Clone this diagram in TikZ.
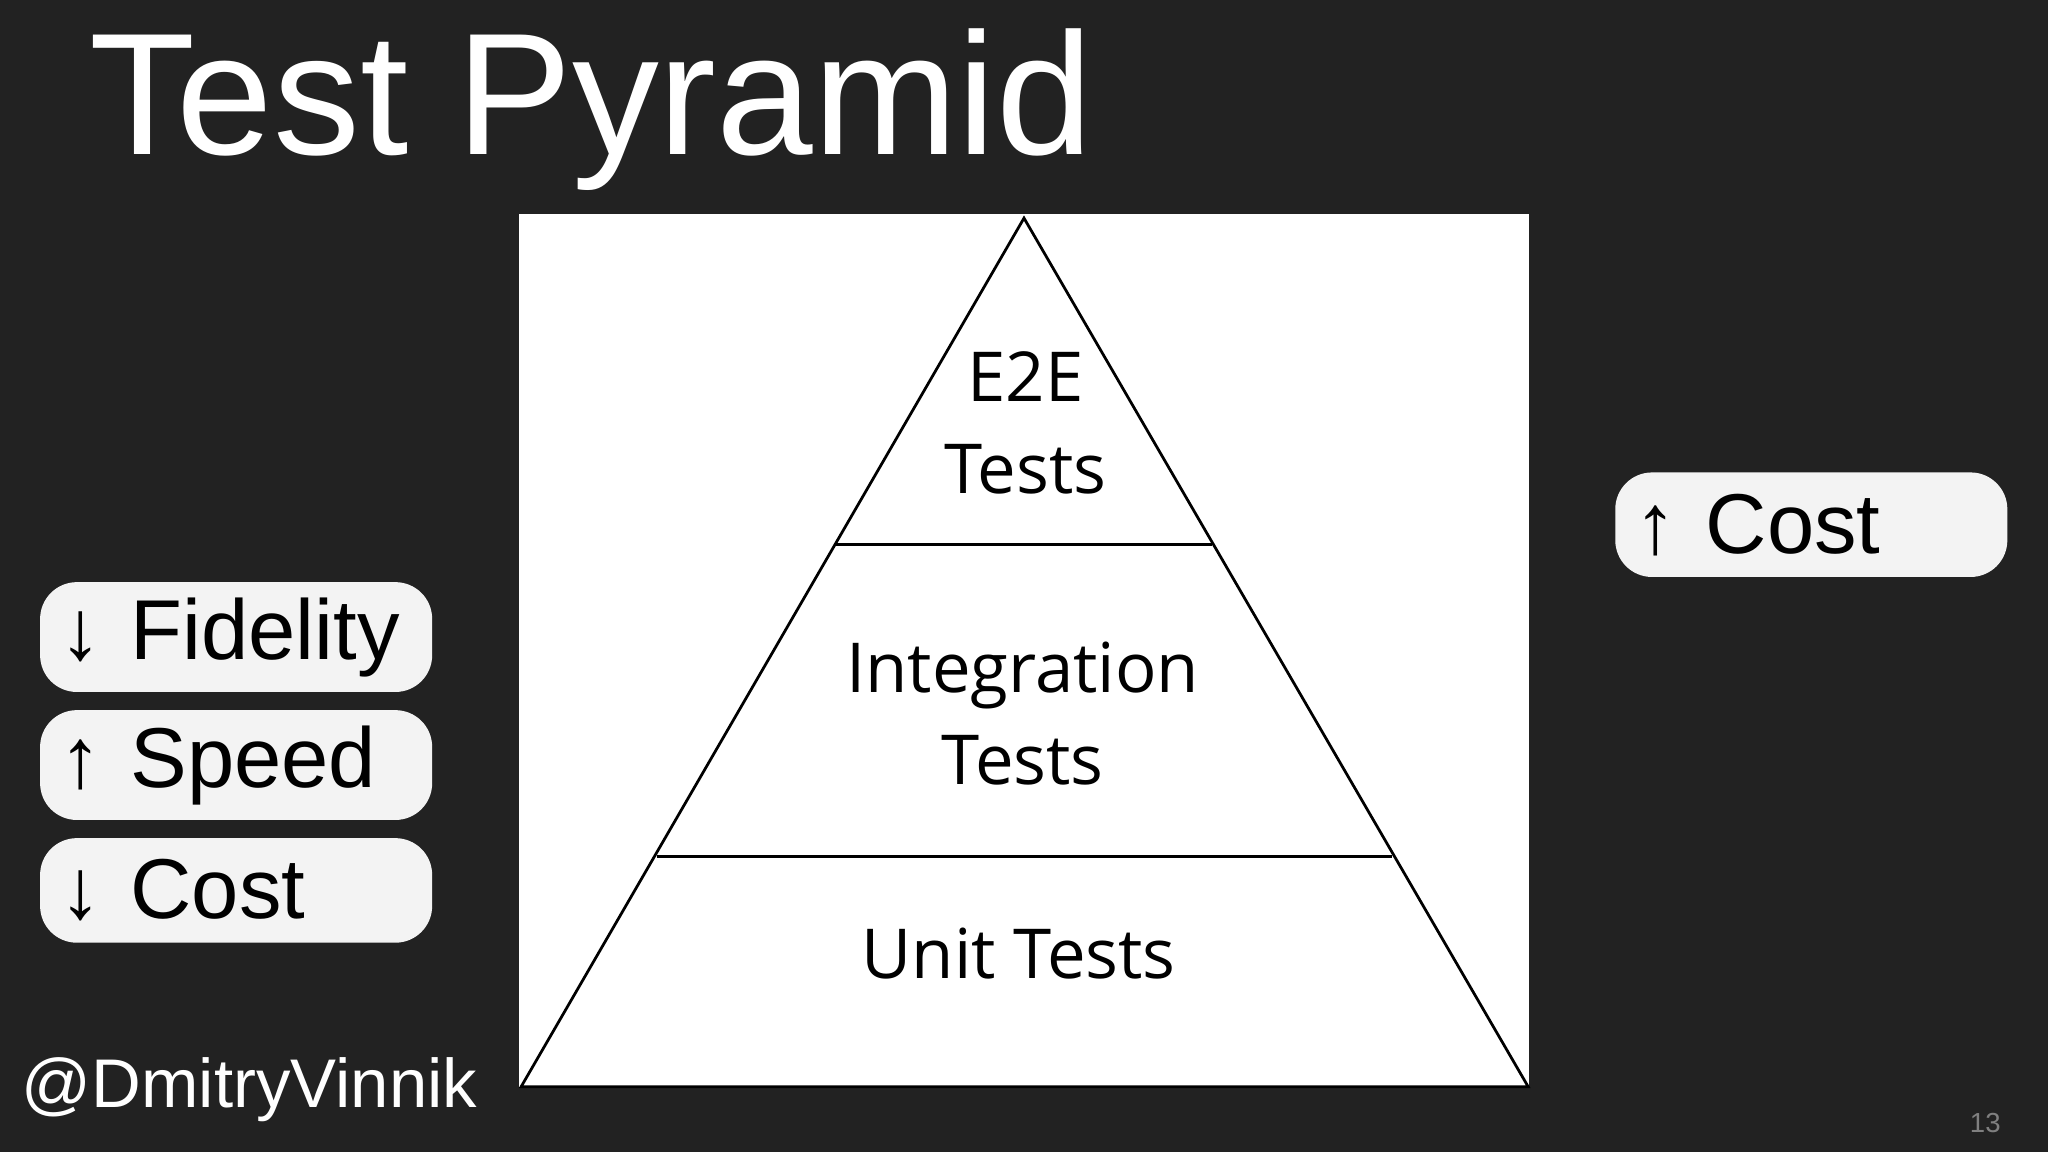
\documentclass[tikz,border=0pt]{standalone}
\usepackage{fontspec}
\setmainfont{Liberation Sans}
\newfontfamily\pyr{Open Sans}
\definecolor{bg}{HTML}{222222}
\definecolor{boxc}{HTML}{F3F3F3}
\begin{document}
\begin{tikzpicture}[x=0.01cm,y=-0.01cm,
  lbl/.style={font=\pyr\fontsize{15}{18}\selectfont,text=black,align=center},
  tag/.style={fill=boxc,rounded corners=8pt,minimum width=3cm,minimum height=0.8cm,anchor=north west,text=black,font=\fontsize{18.5}{22}\selectfont,inner xsep=0.15cm,text width=2.7cm,align=left}]
\fill[bg] (0,0) rectangle (1568,882);
\useasboundingbox (0,0) rectangle (1568,882);
\node[anchor=base west,text=white,font=\fontsize{37.8}{42}\selectfont,inner sep=0] (title) at (68,118) {Test Pyramid};
\fill[white] (397,164) rectangle (1171,833);
\coordinate (apex) at (784,167);
\coordinate (bl) at (399,832);
\coordinate (br) at (1170,832);
\draw[line width=0.6pt] (apex) -- (bl) -- (br) -- cycle;
\coordinate (l1a) at (640,417); \coordinate (l1b) at (928,417);
\coordinate (l2a) at (503,656); \coordinate (l2b) at (1066,656);
\draw[line width=0.6pt] (l1a) -- (l1b);
\draw[line width=0.6pt] (l2a) -- (l2b);
\node[lbl] (e2e) at (785,324) {E2E\\[2pt]Tests};
\node[lbl] (integ) at (783,546) {Integration\\[2pt]Tests};
\node[lbl] (unit) at (780,730) {Unit Tests};
\node[tag] (fid) at (30,445) {↓ Fidelity};
\node[tag] (spd) at (30,543) {↑ Speed};
\node[tag] (cst) at (30,641) {↓ Cost};
\node[tag] (rcost) at (1236,361) {↑ Cost};
\node[anchor=base west,text=white,font=\fontsize{15}{18}\selectfont,inner sep=0] (handle) at (16,848) {@DmitryVinnik};
\node[text=gray,font=\fontsize{6}{7}\selectfont,inner sep=0] (page) at (1520,860) {13};
\end{tikzpicture}
\end{document}
